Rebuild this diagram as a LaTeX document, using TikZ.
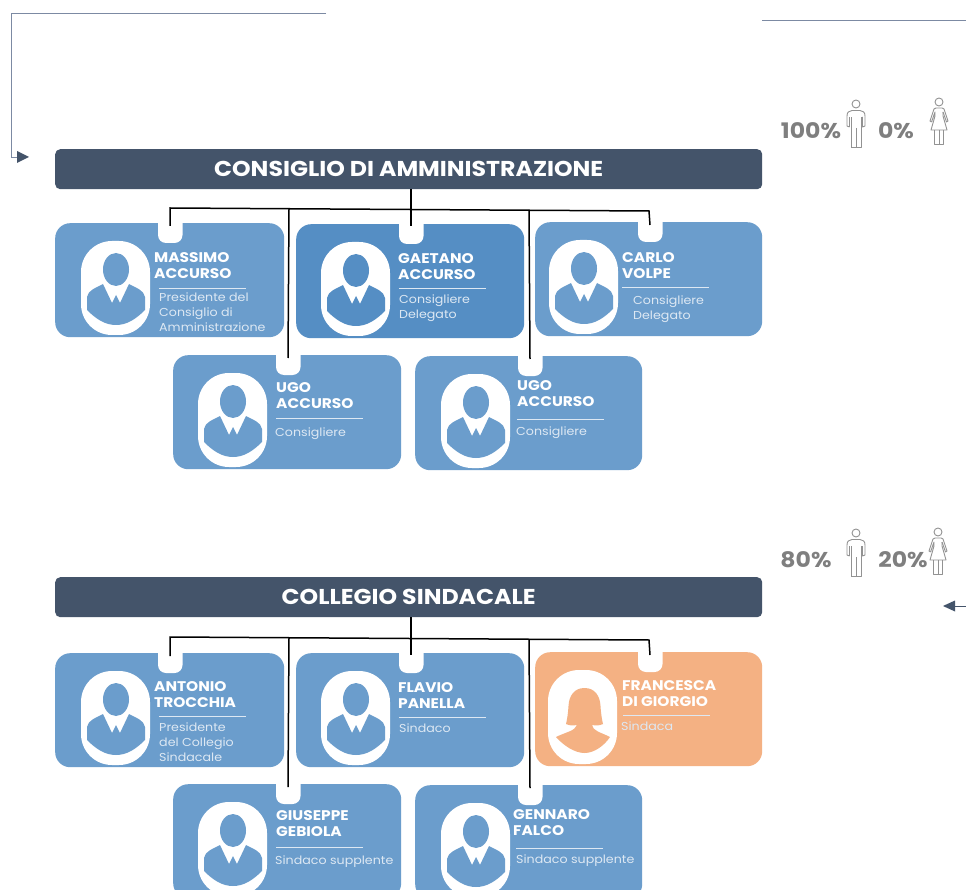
\documentclass[tikz,border=0pt]{standalone}
\usepackage{fontspec}
\setmainfont[FakeStretch=1.1]{Poppins}
\definecolor{bann}{HTML}{44546A}
\definecolor{cardA}{HTML}{6B9DCC}
\definecolor{cardB}{HTML}{558EC4}
\definecolor{cardC}{HTML}{F4B183}
\definecolor{thinl}{HTML}{7C8AA3}
\definecolor{pct}{HTML}{7F7F7F}
\definecolor{rolec}{HTML}{DDE8F3}
\tikzset{
  bannerbox/.style={fill=bann,rounded corners=5pt,minimum width=707pt,minimum height=40pt,inner sep=0pt,anchor=north west,text=white,font=\bfseries\fontsize{21.5}{24}\selectfont},
  cardbox/.style={rounded corners=15pt,minimum width=228pt,minimum height=114pt,inner sep=0pt,anchor=north west},
  nametext/.style={anchor=north west,inner sep=0pt,align=left,text=white,font=\bfseries\fontsize{14}{16.5}\selectfont},
  roletext/.style={anchor=north west,inner sep=0pt,align=left,text=rolec,font=\fontsize{11.5}{15}\selectfont},
  pcttext/.style={inner sep=0pt,text=pct,font=\bfseries\fontsize{21.4}{24}\selectfont},
  conn/.style={draw=black,line width=1.5pt},
  thin line/.style={draw=thinl,line width=0.9pt},
  iconline/.style={draw=pct!85,line width=0.9pt,line join=round},
  rulel/.style={draw=rolec,line width=0.8pt},
  wide/.style={minimum width=229pt},
  narrow/.style={minimum width=227pt},
}
% avatars, local origin = top left of the white plate
\newcommand{\manshape}[1]{%
  \fill[#1] (35,28.5) ellipse [x radius=13,y radius=16.5];
  \fill[#1] (6,69) -- (6,56) .. controls (7,49) and (15,47) .. (22,43) -- (31,62) -- (35,54) -- (39,62) -- (48,43) .. controls (55,47) and (63,49) .. (64,56) -- (64,69) .. controls (55,78) and (46,84) .. (35,84) .. controls (24,84) and (15,78) .. (6,69) -- cycle;
}
\newcommand{\womanshape}[1]{%
  \fill[#1] (36.5,18) .. controls (47,18) and (52,26) .. (52.5,36) .. controls (53,44) and (54,50) .. (55,54) .. controls (51,56) and (47,55.5) .. (44,55) .. controls (45,61) and (52,62) .. (62,67) .. controls (56,76) and (46,83) .. (36.5,83) .. controls (27,83) and (16,76) .. (8,67) .. controls (18,62) and (27,61) .. (29,55) .. controls (26,55.5) and (22,56) .. (18,54) .. controls (19,50) and (20,44) .. (20.5,36) .. controls (21,26) and (26,18) .. (36.5,18) -- cycle;
}
% #1 id, #2 x, #3 y, #4 colour, #5 plate x, #6 avatar macro, #7 card width style
\newcommand{\card}[7]{%
  \node[cardbox,fill=#4,#7] (#1) at (#2,#3) {};
  \fill[white,rounded corners=8pt] ({#2+103},{#3-9}) rectangle ({#2+127.5},{#3+20});
  \fill[white,rounded corners=31pt] (#5,{#3+18}) rectangle ++(69,94);
  \begin{scope}[shift={(#5,{#3+18})}]#6{#4}\end{scope}
  \coordinate (#1-top) at ({#2+115},{#3+3});
}
% #1 id, #2 name x, #3 name top, #4 name, #5 rule x, #6 rule y, #7 role x, #8 role top, #9 role
\newcommand{\cardtext}[9]{%
  \node[nametext] (#1-name) at (#2,#3) {#4};
  \coordinate (#1-ra) at (#5,#6);
  \coordinate (#1-rb) at ({#5+87},#6);
  \draw[rulel] (#1-ra) -- (#1-rb);
  \node[roletext] (#1-role) at (#7,#8) {#9};
}
\newcommand{\maleicon}[2]{%
  \begin{scope}[shift={(#1,#2)}]
  \draw[iconline] (0,0) circle (4);
  \draw[iconline] (-5,43) -- (5,43) -- (5,13);
  \draw[iconline] (-5,43) -- (-5,13);
  \draw[iconline] (0,24) -- (0,43);
  \draw[iconline] (-6.5,23) -- (-9,22) -- (-9,12) .. controls (-9,8) and (-7,7) .. (-4,6.5) -- (4,6.5) .. controls (7,7) and (9,8) .. (9,12) -- (9,22) -- (6.5,23) -- (6.5,13);
  \draw[iconline] (-6.5,23) -- (-6.5,13);
  \end{scope}
}
\newcommand{\femaleicon}[2]{%
  \begin{scope}[shift={(#1,#2)}]
  \draw[iconline] (0,0) circle (4);
  \draw[iconline] (-7.5,20) -- (-9,19) -- (-5,7) -- (-3,6) -- (3,6) -- (5,7) -- (9,19) -- (7.5,20) -- (4,10);
  \draw[iconline] (-7.5,20) -- (-4,10) -- (-4,14) -- (-8,28) -- (8,28) -- (4,14) -- (4,10);
  \draw[iconline] (-4.5,28) -- (-4.5,42) -- (4.5,42) -- (4.5,28);
  \draw[iconline] (0,28) -- (0,42);
  \end{scope}
}
\begin{document}
\begin{tikzpicture}[x=1pt,y=-1pt]
\useasboundingbox (0,0) rectangle (966,890);
\clip (0,0) rectangle (966,890);
\fill[white] (0,0) rectangle (966,890);

% frame lines and arrows
\coordinate (tla) at (326,13);
\coordinate (tlb) at (11,13);
\coordinate (tlc) at (11,157);
\coordinate (tld) at (18,157);
\draw[thin line] (tla) -- (tlb) -- (tlc) -- (tld);
\fill[bann] (17,151) -- (29,157) -- (17,163) -- cycle;
\coordinate (tra) at (762,20);
\coordinate (trb) at (966,20);
\draw[thin line] (tra) -- (trb);
\coordinate (bra) at (966,606);
\coordinate (brb) at (954,606);
\draw[thin line,draw=bann] (bra) -- (brb);
\fill[bann] (955,600.5) -- (943,606) -- (955,611.5) -- cycle;

% banners
\node[bannerbox] (ban1) at (55,149) {CONSIGLIO DI AMMINISTRAZIONE};
\node[bannerbox] (ban2) at (55,577) {COLLEGIO SINDACALE};

% percentages
\node[pcttext] (p1) at (811,131) {100\%};
\node[pcttext] (p2) at (896,131) {0\%};
\node[pcttext] (p3) at (806,560) {80\%};
\node[pcttext] (p4) at (903,560) {20\%};
\maleicon{856}{104}
\femaleicon{939}{102}
\maleicon{856}{533}
\femaleicon{938}{532}

% cards, first group
\card{a1}{55}{223}{cardA}{81}{\manshape}{wide}
\card{a2}{296}{224}{cardB}{321}{\manshape}{}
\card{a3}{535}{222}{cardA}{549}{\manshape}{narrow}
\card{a4}{173}{355}{cardA}{198}{\manshape}{}
\card{a5}{415}{356}{cardA}{441}{\manshape}{narrow}
\cardtext{a1}{154}{252}{MASSIMO\\ACCURSO}{159}{288}{159}{293}{Presidente del\\Consiglio di\\Amministrazione}
\cardtext{a2}{398}{253}{GAETANO\\ACCURSO}{399}{288}{399}{295}{Consigliere\\Delegato}
\cardtext{a3}{622}{252}{CARLO\\VOLPE}{622}{287}{633}{296}{Consigliere\\Delegato}
\cardtext{a4}{276}{382}{UGO\\ACCURSO}{276}{418}{275}{428}{Consigliere}
\cardtext{a5}{517}{380}{UGO\\ACCURSO}{517}{419}{516}{427}{Consigliere}

% cards, second group
\card{b1}{55}{653}{cardA}{81}{\manshape}{wide}
\card{b2}{296}{653}{cardA}{321}{\manshape}{}
\card{b3}{535}{652}{cardC}{548}{\womanshape}{narrow}
\card{b4}{173}{784}{cardA}{198}{\manshape}{}
\card{b5}{415}{785}{cardA}{441}{\manshape}{narrow}
\cardtext{b1}{154}{681}{ANTONIO\\TROCCHIA}{159}{716}{159}{723}{Presidente\\del Collegio\\Sindacale}
\cardtext{b2}{398}{682}{FLAVIO\\PANELLA}{399}{717}{399}{724}{Sindaco}
\cardtext{b3}{622}{680}{FRANCESCA\\DI GIORGIO}{623}{715}{621}{722}{Sindaca}
\cardtext{b4}{276}{810}{GIUSEPPE\\GEBIOLA}{276}{847}{275}{856}{Sindaco supplente}
\cardtext{b5}{513}{809}{GENNARO\\FALCO}{516}{848}{516}{855}{Sindaco supplente}

% connectors, first group
\coordinate (aL) at (170,208);
\coordinate (aR) at (649,211);
\coordinate (aJ1) at (289,209);
\coordinate (aJ2) at (529,210);
\coordinate (aT) at (411,189);
\coordinate (aE) at (411,226);
\draw[conn] (a1-top) -- (aL) -- (aR) -- (a3-top);
\draw[conn] (aT) -- (aE);
\draw[conn] (aJ1) -- (a4-top);
\draw[conn] (aJ2) -- (a5-top);

% connectors, second group
\coordinate (bL) at (170,637);
\coordinate (bR) at (649,640);
\coordinate (bJ1) at (289,638);
\coordinate (bJ2) at (529,639);
\coordinate (bT) at (411,617);
\coordinate (bE) at (411,655);
\draw[conn] (b1-top) -- (bL) -- (bR) -- (b3-top);
\draw[conn] (bT) -- (bE);
\draw[conn] (bJ1) -- (b4-top);
\draw[conn] (bJ2) -- (b5-top);
\end{tikzpicture}
\end{document}
